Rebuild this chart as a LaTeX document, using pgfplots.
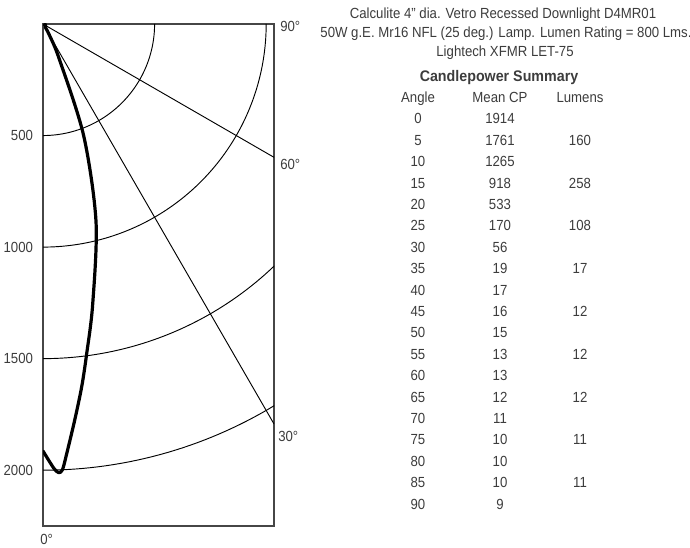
\documentclass[border=0pt]{standalone}
\usepackage{fontspec}
\setmainfont{Liberation Sans}[FakeStretch=0.9]
\newfontfamily\bfont{Liberation Sans}[FakeStretch=0.93]
\usepackage{pgfplots}
\usepackage{pgfplotstable}
\pgfplotsset{compat=1.18}
\definecolor{txt}{RGB}{60,60,60}
\definecolor{frm}{RGB}{70,70,70}

% candlepower curve (angle from nadir, cd)
\pgfplotstableread{
ang cd
0 1914
1 1970
1.5 1997
2 2012
2.5 2000
3.2 1924
4.6 1779
6.1 1634
7.5 1495
10 1280
15 918
20 533
25 170
30 56
35 19
40 17
45 16
50 15
55 13
60 13
65 12
70 11
75 10
80 10
85 10
90 9
}\cpdata

\begin{document}
\begin{tikzpicture}[x=0.75pt,y=-0.75pt]
\useasboundingbox (0,0) rectangle (690,548);
\begin{axis}[
  at={(43*0.75pt,-24*0.75pt)}, anchor=north west,
  scale only axis, width=173.25pt, height=376.5pt,
  xmin=0, xmax=1035, ymin=-2250, ymax=0,
  axis line style={frm, line width=1.2pt},
  xtick=\empty,
  ytick={-500,-1000,-1500,-2000},
  yticklabels={500,1000,1500,2000},
  major tick length=0pt,
  yticklabel style={font=\fontsize{11}{13}\selectfont, text=txt, xshift=-4pt},
  clip=true,
]
% grid arcs
\foreach \r in {500,1000,1500,2000} {
  \addplot[black, line width=0.7pt, domain=0:90, samples=90, variable=\t] ({\r*sin(t)},{-\r*cos(t)});
}
% radial lines
\addplot[black, line width=0.7pt] coordinates {(0,0) (1035,-1792.7)};
\addplot[black, line width=0.7pt] coordinates {(0,0) (1035,-597.6)};
% candlepower curve
\addplot[black, line width=2.4pt, smooth, line cap=round, line join=round]
  table[x expr={\thisrow{cd}*sin(\thisrow{ang})}, y expr={-\thisrow{cd}*cos(\thisrow{ang})}] {\cpdata};
\end{axis}

\begin{scope}[every node/.style={font=\fontsize{11}{13}\selectfont, text=txt, inner sep=0pt}]
\node[anchor=base west] at (280,32) {90°};
\node[anchor=base west] at (280,170) {60°};
\node[anchor=base west] at (278,442) {30°};
\node[anchor=base west] at (40,545) {0°};

\node[anchor=base] at (503,19) {Calculite 4” dia. Vetro Recessed Downlight D4MR01};
\node[anchor=base] at (506,38) {50W g.E. Mr16 NFL (25 deg.) Lamp. Lumen Rating = 800 Lms.};
\node[anchor=base] at (505,57) {Lightech XFMR LET-75};
\node[anchor=base, font=\fontsize{11.5}{13}\bfont\bfseries] at (499,82) {Candlepower Summary};
\node[anchor=base] at (418,103) {Angle};
\node[anchor=base] at (500,103) {Mean CP};
\node[anchor=base] at (580,103) {Lumens};
\foreach \a/\c/\l [count=\i from 0] in {0/1914/,5/1761/160,10/1265/,15/918/258,20/533/,25/170/108,30/56/,35/19/17,40/17/,45/16/12,50/15/,55/13/12,60/13/,65/12/12,70/11/,75/10/11,80/10/,85/10/11,90/9/} {
  \node[anchor=base] at (418,124+21.4*\i) {\a};
  \node[anchor=base] at (500,124+21.4*\i) {\c};
  \node[anchor=base] at (580,124+21.4*\i) {\l};
}
\end{scope}
\end{tikzpicture}
\end{document}
